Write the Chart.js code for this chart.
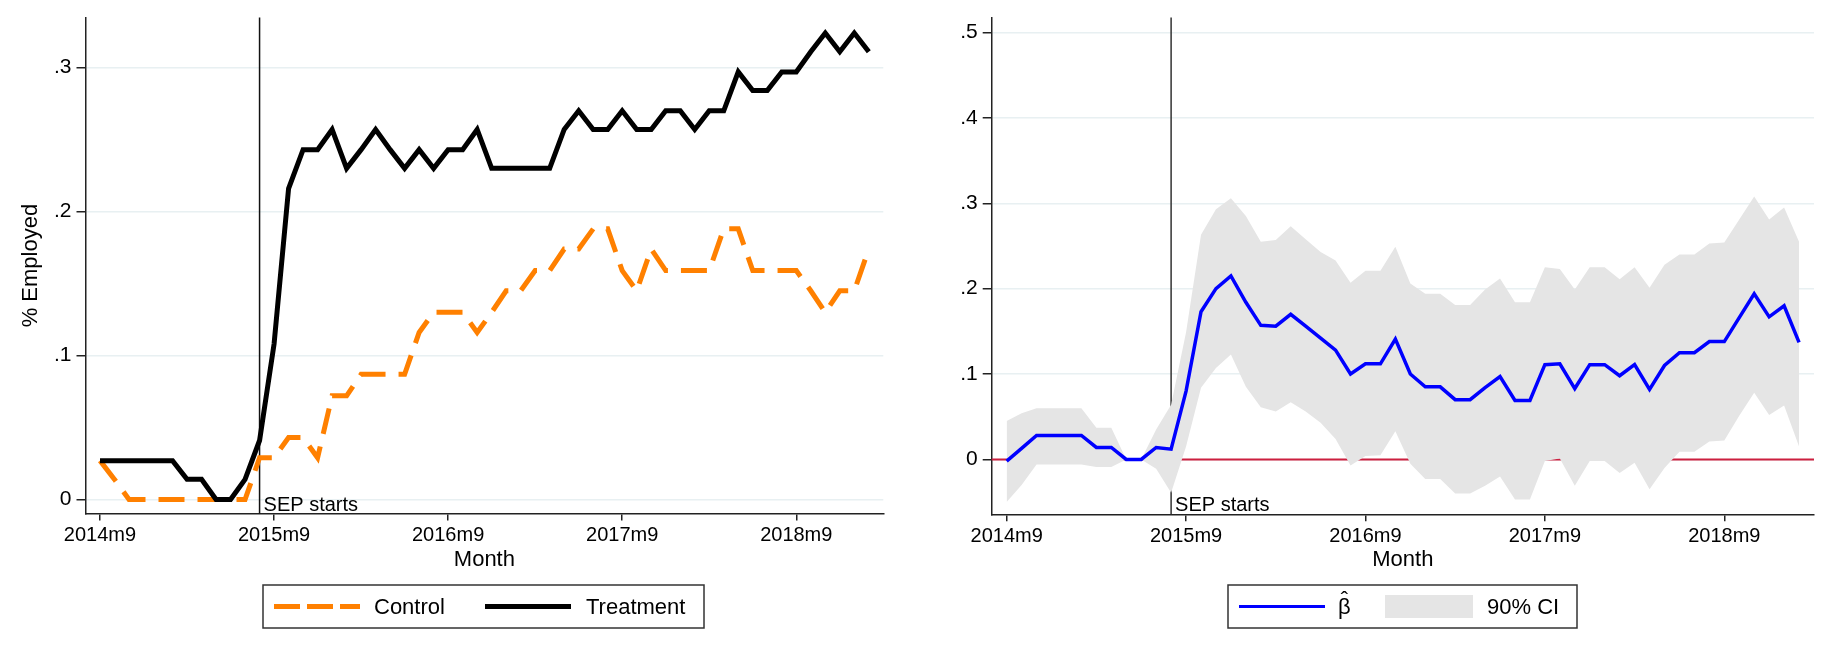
<!DOCTYPE html>
<html>
<head>
<meta charset="utf-8">
<script src="https://cdn.jsdelivr.net/npm/chart.js@4.4.1/dist/chart.umd.min.js"></script>
<style>
  html, body { margin: 0; padding: 0; background: #fff; }
  #left { position: absolute; left: 0; top: 0; width: 915px; height: 646px; }
  #right { position: absolute; left: 915px; top: 0; width: 916px; height: 646px; }
</style>
</head>
<body>
<div id="left"><canvas id="empChart"></canvas></div>
<div id="right"><canvas id="betaChart"></canvas></div>
<script>
// months counted from 2014m9 (index 0) to 2019m2 (index 53)
const xTickVals = [0, 12, 24, 36, 48]
const xTickLabels = ['2014m9', '2015m9', '2016m9', '2017m9', '2018m9']
const sepMonth = 11
const leftYTicks = [0, 0.1, 0.2, 0.3]
const leftYLabels = ['0', '.1', '.2', '.3']
const rightYTicks = [0, 0.1, 0.2, 0.3, 0.4, 0.5]
const rightYLabels = ['0', '.1', '.2', '.3', '.4', '.5']

const treatment = [0.027, 0.027, 0.027, 0.027, 0.027, 0.027, 0.014, 0.014, 0, 0,
    0.014, 0.041, 0.108, 0.216, 0.243, 0.243, 0.257, 0.230, 0.243, 0.257,
    0.243, 0.230, 0.243, 0.230, 0.243, 0.243, 0.257, 0.230, 0.230, 0.230,
    0.230, 0.230, 0.257, 0.270, 0.257, 0.257, 0.270, 0.257, 0.257, 0.270,
    0.270, 0.257, 0.270, 0.270, 0.297, 0.284, 0.284, 0.297, 0.297, 0.311,
    0.324, 0.311, 0.324, 0.311]
const control = [0.027, 0.014, 0, 0, 0, 0, 0, 0, 0, 0,
    0, 0.029, 0.029, 0.043, 0.043, 0.029, 0.072, 0.072, 0.087, 0.087,
    0.087, 0.087, 0.116, 0.130, 0.130, 0.130, 0.116, 0.130, 0.145, 0.145,
    0.159, 0.159, 0.174, 0.174, 0.188, 0.188, 0.159, 0.145, 0.174, 0.159,
    0.159, 0.159, 0.159, 0.188, 0.188, 0.159, 0.159, 0.159, 0.159, 0.145,
    0.130, 0.145, 0.145, 0.174]

const beta = [-0.002, 0.013, 0.028, 0.028, 0.028, 0.028, 0.014, 0.014, 0, 0,
    0.014, 0.012, 0.080, 0.173, 0.200, 0.215, 0.184, 0.157, 0.156, 0.170,
    0.156, 0.142, 0.128, 0.100, 0.112, 0.112, 0.141, 0.100, 0.085, 0.085,
    0.070, 0.070, 0.084, 0.097, 0.069, 0.069, 0.111, 0.112, 0.083, 0.111,
    0.111, 0.098, 0.111, 0.082, 0.110, 0.125, 0.125, 0.138, 0.138, 0.166,
    0.194, 0.167, 0.180, 0.137]
const ciUpper = [0.045, 0.054, 0.060, 0.060, 0.060, 0.060, 0.037, 0.037, 0, 0,
    0.035, 0.064, 0.149, 0.263, 0.293, 0.306, 0.285, 0.255, 0.257, 0.273,
    0.258, 0.243, 0.233, 0.207, 0.221, 0.221, 0.249, 0.206, 0.194, 0.194,
    0.181, 0.181, 0.199, 0.212, 0.184, 0.184, 0.225, 0.223, 0.199, 0.225,
    0.225, 0.211, 0.225, 0.201, 0.228, 0.240, 0.240, 0.253, 0.254, 0.281,
    0.308, 0.281, 0.295, 0.255]
const ciLower = [-0.050, -0.030, -0.006, -0.006, -0.006, -0.006, -0.009, -0.009, 0, 0,
    -0.011, -0.039, 0.015, 0.084, 0.107, 0.123, 0.085, 0.061, 0.056, 0.067,
    0.056, 0.043, 0.024, -0.007, 0.004, 0.005, 0.033, -0.005, -0.023, -0.023,
    -0.040, -0.040, -0.031, -0.020, -0.047, -0.047, -0.002, 0.001, -0.031, -0.002,
    -0.002, -0.016, -0.004, -0.035, -0.010, 0.009, 0.009, 0.021, 0.022, 0.051,
    0.078, 0.052, 0.063, 0.015]

const FONT = "'Liberation Sans', Arial, Helvetica, sans-serif"
Chart.defaults.font.family = FONT
Chart.defaults.color = '#000'

const ORANGE = '#ff8000'
const CI_GREY = '#e5e5e5'

function asPoints(arr) {
    return arr.map((v, i) => ({x: i, y: v}))
}

// vertical "SEP starts" line (+ optional zero line) under the data
const sepLine = {
    id: 'sepLine',
    beforeDatasetsDraw(chart, args, opts) {
        const {ctx, chartArea, scales} = chart
        ctx.save()
        const x = scales.x.getPixelForValue(sepMonth)
        ctx.strokeStyle = opts.color
        ctx.lineWidth = 1.5
        ctx.beginPath()
        ctx.moveTo(x, chartArea.top)
        ctx.lineTo(x, chartArea.bottom)
        ctx.stroke()
        if (opts.zeroColor) {
            const y0 = scales.y.getPixelForValue(0)
            ctx.strokeStyle = opts.zeroColor
            ctx.lineWidth = 2
            ctx.beginPath()
            ctx.moveTo(chartArea.left, y0)
            ctx.lineTo(chartArea.right, y0)
            ctx.stroke()
        }
        ctx.restore()
    },
    afterDatasetsDraw(chart) {
        const {ctx, chartArea, scales} = chart
        const x = scales.x.getPixelForValue(sepMonth)
        ctx.save()
        ctx.font = '20px ' + FONT
        ctx.fillStyle = '#000'
        ctx.textBaseline = 'alphabetic'
        ctx.fillText('SEP starts', x + 4, chartArea.bottom - 3)
        ctx.restore()
    }
}

// stata-like boxed legend under the plot
const boxLegend = {
    id: 'boxLegend',
    afterDraw(chart, args, opts) {
        const ctx = chart.ctx
        const b = opts.box
        const cy = b.y + b.h / 2
        ctx.save()
        ctx.strokeStyle = '#333'
        ctx.lineWidth = 1.5
        ctx.strokeRect(b.x, b.y, b.w, b.h)
        ctx.font = '22px ' + FONT
        ctx.textBaseline = 'middle'
        opts.items.forEach(it => {
            if (it.kind === 'line') {
                ctx.strokeStyle = it.color
                ctx.lineWidth = it.width
                ctx.setLineDash(it.dash || [])
                ctx.beginPath()
                ctx.moveTo(it.x0, cy)
                ctx.lineTo(it.x1, cy)
                ctx.stroke()
                ctx.setLineDash([])
            } else {
                ctx.fillStyle = it.color
                ctx.fillRect(it.x0, cy - 11.5, it.x1 - it.x0, 23)
            }
            ctx.fillStyle = '#000'
            ctx.fillText(it.label, it.tx, cy + 1)
            if (it.hat) {
                // circumflex over the symbol
                const w = ctx.measureText(it.label).width
                ctx.textAlign = 'center'
                ctx.fillText('\u02C6', it.tx + w / 2, cy - 6)
                ctx.textAlign = 'left'
            }
        })
        ctx.restore()
    }
}

function xScale(height) {
    return {
        type: 'linear',
        min: -1,
        max: 54,
        afterBuildTicks: s => { s.ticks = xTickVals.map(v => ({value: v})) },
        afterFit: s => { s.height = height },
        ticks: {
            callback: (v, i) => xTickLabels[i],
            font: {size: 20},
            padding: 3,
            maxRotation: 0,
            autoSkip: false
        },
        grid: {drawOnChartArea: false, tickLength: 7, color: '#222', lineWidth: 1.5},
        border: {color: '#222', width: 1.5},
        title: {display: true, text: 'Month', font: {size: 22}, padding: 0}
    }
}

function yScale(min, max, tickVals, tickLabels, width, title) {
    return {
        type: 'linear',
        min: min,
        max: max,
        afterBuildTicks: s => { s.ticks = tickVals.map(v => ({value: v})) },
        afterFit: s => { s.width = width },
        ticks: {
            callback: (v, i) => tickLabels[i],
            font: {size: 21},
            padding: 5
        },
        grid: {color: '#e8f0f2', lineWidth: 1.5, tickLength: 9, tickColor: '#222', tickWidth: 1.5},
        border: {color: '#222', width: 1.5},
        title: title ? {display: true, text: title, font: {size: 22}, padding: 0} : {display: false}
    }
}

function drawEmployment() {
    const ctx = document.getElementById('empChart')
    new Chart(ctx, {
        type: 'line',
        data: {
            datasets: [{
                label: 'Treatment',
                data: asPoints(treatment),
                borderColor: '#000',
                borderWidth: 5,
                pointRadius: 0,
                fill: false,
                order: 0
            }, {
                label: 'Control',
                data: asPoints(control),
                borderColor: ORANGE,
                borderWidth: 5,
                borderDash: [26, 13],
                pointRadius: 0,
                fill: false,
                order: 1
            }]
        },
        options: {
            responsive: true,
            maintainAspectRatio: false,
            animation: false,
            layout: {padding: {left: 18, right: 31.7, top: 16, bottom: 72.8}},
            scales: {
                x: xScale(59.7),
                y: yScale(-0.0097, 0.3347, leftYTicks, leftYLabels, 67.5, '% Employed')
            },
            plugins: {
                legend: {display: false},
                tooltip: {enabled: false},
                sepLine: {color: '#111'},
                boxLegend: {
                    box: {x: 263, y: 585, w: 441, h: 43},
                    items: [
                        {kind: 'line', color: ORANGE, width: 5, dash: [26, 7], x0: 274, x1: 360, label: 'Control', tx: 374},
                        {kind: 'line', color: '#000', width: 5, x0: 485, x1: 571, label: 'Treatment', tx: 586}
                    ]
                }
            }
        },
        plugins: [sepLine, boxLegend]
    })
}

function drawBeta() {
    const ctx = document.getElementById('betaChart')
    new Chart(ctx, {
        type: 'line',
        data: {
            datasets: [{
                label: 'beta',
                data: asPoints(beta),
                borderColor: '#0000ff',
                borderWidth: 3.5,
                pointRadius: 0,
                fill: false,
                order: 0
            }, {
                label: 'ci upper',
                data: asPoints(ciUpper),
                borderWidth: 0,
                borderColor: CI_GREY,
                backgroundColor: CI_GREY,
                pointRadius: 0,
                fill: '+1',
                order: 1
            }, {
                label: 'ci lower',
                data: asPoints(ciLower),
                borderWidth: 0,
                borderColor: CI_GREY,
                pointRadius: 0,
                fill: false,
                order: 2
            }]
        },
        options: {
            responsive: true,
            maintainAspectRatio: false,
            animation: false,
            layout: {padding: {left: 0, right: 17, top: 16.7, bottom: 72.8}},
            scales: {
                x: xScale(58.9),
                y: yScale(-0.0643, 0.5175, rightYTicks, rightYLabels, 76.7, null)
            },
            plugins: {
                legend: {display: false},
                tooltip: {enabled: false},
                filler: {drawTime: 'beforeDatasetDraw'},
                sepLine: {color: '#333', zeroColor: '#cc1f3f'},
                boxLegend: {
                    box: {x: 313, y: 585, w: 349, h: 43},
                    items: [
                        {kind: 'line', color: '#0000ff', width: 3, x0: 324, x1: 410, label: 'β', hat: true, tx: 423},
                        {kind: 'rect', color: CI_GREY, x0: 470, x1: 558, label: '90% CI', tx: 572}
                    ]
                }
            }
        },
        plugins: [sepLine, boxLegend]
    })
}

document.addEventListener('DOMContentLoaded', () => {
    drawEmployment()
    drawBeta()
})
</script>
</body>
</html>
